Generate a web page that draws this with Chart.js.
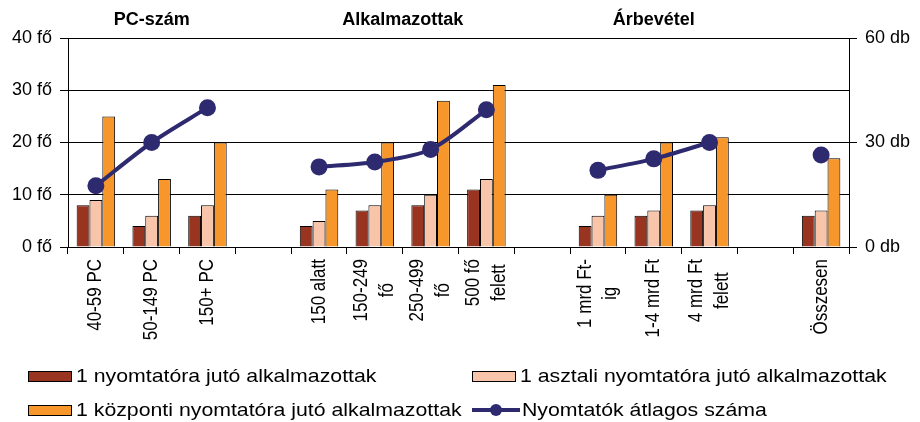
<!DOCTYPE html>
<html>
<head>
<meta charset="utf-8">
<script src="https://cdn.jsdelivr.net/npm/chart.js@4/dist/chart.umd.min.js"></script>
<style>
    body { margin: 0; background: #fff; font-family: 'Liberation Sans', Arial, sans-serif; }
    #wrap { position: relative; width: 920px; height: 422px; }
    #legend {
        position: absolute; left: 28px; top: 359px;
        display: grid; grid-template-columns: 444px auto; grid-auto-rows: 34px;
        font-size: 19px; color: #000;
    }
    .item { display: flex; align-items: center; white-space: nowrap; }
    .item span { display: inline-block; transform: scaleX(1.12); transform-origin: left center; }
    .box { width: 42px; height: 9px; border: 1px solid #000; margin-right: 4px; }
    .mark { position: relative; width: 48px; height: 4px; margin-right: 2px; }
    .mark i { position: absolute; left: 18px; top: -4px; width: 12px; height: 12px; border-radius: 50%; }
</style>
</head>
<body>
<div id="wrap">
    <canvas id="chart" width="920" height="422"></canvas>
    <div id="legend"></div>
</div>
<script>
// Categories (gaps between the groups are empty)
const categories = [
    ['40-59 PC'], ['50-149 PC'], ['150+ PC'], [],
    ['150 alatt'], ['150-249', 'fő'], ['250-499', 'fő'], ['500 fő', 'felett'], [],
    ['1 mrd Ft-', 'ig'], ['1-4 mrd Ft'], ['4 mrd Ft', 'felett'], [],
    ['Összesen']
];
const groupTitles = ['PC-szám', 'Alkalmazottak', 'Árbevétel'];
const groupSpans = [[0, 2], [4, 7], [9, 11]];

// fő (left axis)
const perPrinter = [8, 4, 6, null, 4, 7, 8, 11, null, 4, 6, 7, null, 6];
const perDesktop = [9, 6, 8, null, 5, 8, 10, 13, null, 6, 7, 8, null, 7];
const perCentral = [25, 13, 20, null, 11, 20, 28, 31, null, 10, 20, 21, null, 17];
// db (right axis)
const avgPrinters = [17.6, 30, 40, null, 23, 24.4, 28, 39.4, null, 22, 25.3, 30, null, 26.4];

const leftTicks = [0, 10, 20, 30, 40];
const rightTicks = [0, 30, 60];

const FONT = "'Liberation Sans', Arial, sans-serif";
const NAVY = '#2e2a70';

// group titles + vertical category labels
const labelPlugin = {
    id: 'labelPlugin',
    afterDraw(chart) {
        const { ctx, chartArea } = chart;
        const x = chart.scales.x;
        ctx.save();
        ctx.fillStyle = '#000';
        ctx.textAlign = 'center';
        ctx.textBaseline = 'middle';
        ctx.font = 'bold 18px ' + FONT;
        groupTitles.forEach((t, i) => {
            const [a, b] = groupSpans[i];
            const cx = (x.getPixelForValue(a) + x.getPixelForValue(b)) / 2;
            ctx.fillText(t, cx, 20);
        });

        ctx.font = '17px ' + FONT;
        categories.forEach((lines, i) => {
            if (!lines.length) return;
            const maxW = Math.max(...lines.map(l => ctx.measureText(l).width));
            ctx.save();
            ctx.translate(x.getPixelForValue(i), chartArea.bottom + 12);
            ctx.scale(1.17, 1);
            ctx.rotate(-Math.PI / 2);
            lines.forEach((l, j) => {
                ctx.fillText(l, -maxW / 2, (j - (lines.length - 1) / 2) * 22);
            });
            ctx.restore();
        });
        ctx.restore();
    }
};

const barBase = { borderColor: '#000', borderWidth: 1, categoryPercentage: 0.69, barPercentage: 1, yAxisID: 'y', order: 1 };

const chart = new Chart(document.getElementById('chart'), {
    type: 'bar',
    data: {
        labels: categories.map(c => c.join(' ')),
        datasets: [
            { ...barBase, label: '1 nyomtatóra jutó alkalmazottak', data: perPrinter, backgroundColor: '#993421' },
            { ...barBase, label: '1 asztali nyomtatóra jutó alkalmazottak', data: perDesktop, backgroundColor: '#f8c5aa' },
            { ...barBase, label: '1 központi nyomtatóra jutó alkalmazottak', data: perCentral, backgroundColor: '#f7972b' },
            {
                type: 'line',
                label: 'Nyomtatók átlagos száma',
                data: avgPrinters,
                yAxisID: 'y1',
                order: 0,
                borderColor: NAVY,
                backgroundColor: NAVY,
                borderWidth: 4,
                pointRadius: 8.5,
                pointBorderWidth: 0,
                pointBackgroundColor: NAVY,
                tension: 0.3,
                spanGaps: false
            }
        ]
    },
    options: {
        responsive: false,
        animation: false,
        layout: { padding: { top: 38 } },
        plugins: { legend: { display: false }, tooltip: { enabled: false } },
        scales: {
            x: {
                grid: { offset: true, drawOnChartArea: false, color: '#000', tickLength: 7 },
                border: { color: '#000' },
                ticks: { display: false },
                afterFit: s => { s.height = 175; }
            },
            y: {
                min: 0, max: 40,
                afterBuildTicks: s => { s.ticks = leftTicks.map(v => ({ value: v })); },
                ticks: { callback: v => v + ' fő', color: '#000', font: { size: 18, family: FONT }, padding: 8 },
                grid: { color: '#000', tickLength: 8 },
                border: { color: '#000' },
                afterFit: s => { s.width = 68; }
            },
            y1: {
                position: 'right',
                min: 0, max: 60,
                afterBuildTicks: s => { s.ticks = rightTicks.map(v => ({ value: v })); },
                ticks: { callback: v => v + ' db', color: '#000', font: { size: 18, family: FONT }, padding: 8 },
                grid: { drawOnChartArea: false, color: '#000', tickLength: 8 },
                border: { color: '#000' },
                afterFit: s => { s.width = 71; }
            }
        }
    },
    plugins: [labelPlugin]
});

// legend built from the datasets, two columns
const legend = document.getElementById('legend');
chart.data.datasets.forEach(ds => {
    const item = document.createElement('div');
    item.className = 'item';
    if (ds.type === 'line') {
        item.innerHTML = `<div class="mark" style="background:${ds.borderColor}"><i style="background:${ds.borderColor}"></i></div>`;
    } else {
        item.innerHTML = `<div class="box" style="background:${ds.backgroundColor}"></div>`;
    }
    const txt = document.createElement('span');
    txt.textContent = ds.label;
    item.appendChild(txt);
    legend.appendChild(item);
});
</script>
</body>
</html>
